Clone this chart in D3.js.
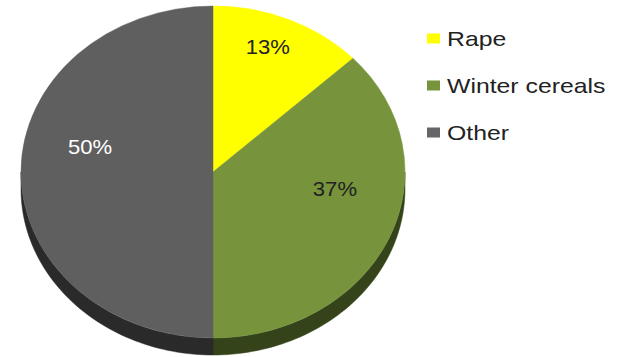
<!DOCTYPE html>
<html><head><meta charset="utf-8">
<script src="https://cdn.jsdelivr.net/npm/d3@7"></script>
<style>body{margin:0;background:#fff}svg{display:block}</style>
</head><body>
<svg id="c" width="618" height="357"></svg>
<script>
const categories = ["Rape", "Winter cereals", "Other"];
const values = [13, 37, 50];
const labels = ["13%", "37%", "50%"];
const topColors = ["#ffff00", "#77933c", "#5f5f5f"];
const sideColors = ["#8a8a00", "#34431a", "#2a2a2a"];
const legendColors = ["#ffff00", "#77933c", "#666666"];
const labelColors = ["#222", "#222", "#fff"];

const svg = d3.select("#c");
const cx = 213, cy = 172, rx = 192, ry = 166, depth = 17;
const k = ry / rx;

const pie = d3.pie().sort(null).value(d => d);
const arcs = pie(values);
const pt = (a, dy) => [cx + rx * Math.sin(a), cy - ry * Math.cos(a) + dy];

// sides (visible only in front half)
const sideG = svg.append("g");
arcs.forEach((a, i) => {
  const s = Math.max(a.startAngle, Math.PI / 2), e = Math.min(a.endAngle, 3 * Math.PI / 2);
  if (e <= s) return;
  const n = 60, pts = [];
  for (let j = 0; j <= n; j++) pts.push(pt(s + (e - s) * j / n, 0));
  for (let j = n; j >= 0; j--) pts.push(pt(s + (e - s) * j / n, depth));
  sideG.append("path").attr("d", d3.line()(pts) + "Z").attr("fill", sideColors[i]).attr("stroke", sideColors[i]).attr("stroke-width", 0.5);
});

// top faces
const arc = d3.arc().innerRadius(0).outerRadius(rx);
const topG = svg.append("g").attr("transform", `translate(${cx},${cy}) scale(1,${k})`);
topG.selectAll("path").data(arcs).join("path")
  .attr("d", arc).attr("fill", (d, i) => topColors[i])
  .attr("stroke", (d, i) => topColors[i]).attr("stroke-width", 0.5);

// label placement (fractions of the radii, as in the 3D layout)
const labelOffset = [[0.286, -0.753], [0.635, 0.102], [-0.64, -0.15]];
svg.selectAll("text.lbl").data(arcs).join("text").attr("class", "lbl")
  .attr("transform", (d, i) => `translate(${cx + rx * labelOffset[i][0]},${cy + ry * labelOffset[i][1]}) scale(1.05,1)`)
  .attr("text-anchor", "middle").attr("dominant-baseline", "central")
  .attr("font-family", "Liberation Sans, Arial, sans-serif").attr("font-size", 21)
  .attr("fill", (d, i) => labelColors[i]).text((d, i) => labels[i]);

// legend
const lg = svg.append("g").attr("transform", "translate(427,38)");
categories.forEach((c, i) => {
  const g = lg.append("g").attr("transform", `translate(0,${i * 47})`);
  g.append("rect").attr("x", 0).attr("y", -4.5).attr("width", 13).attr("height", 10).attr("fill", legendColors[i]);
  g.append("text").attr("transform", "translate(20,1) scale(1.24,1)").attr("dominant-baseline", "central")
    .attr("font-family", "Liberation Sans, Arial, sans-serif").attr("font-size", 20)
    .attr("fill", "#222").text(c);
});
</script>
</body></html>
